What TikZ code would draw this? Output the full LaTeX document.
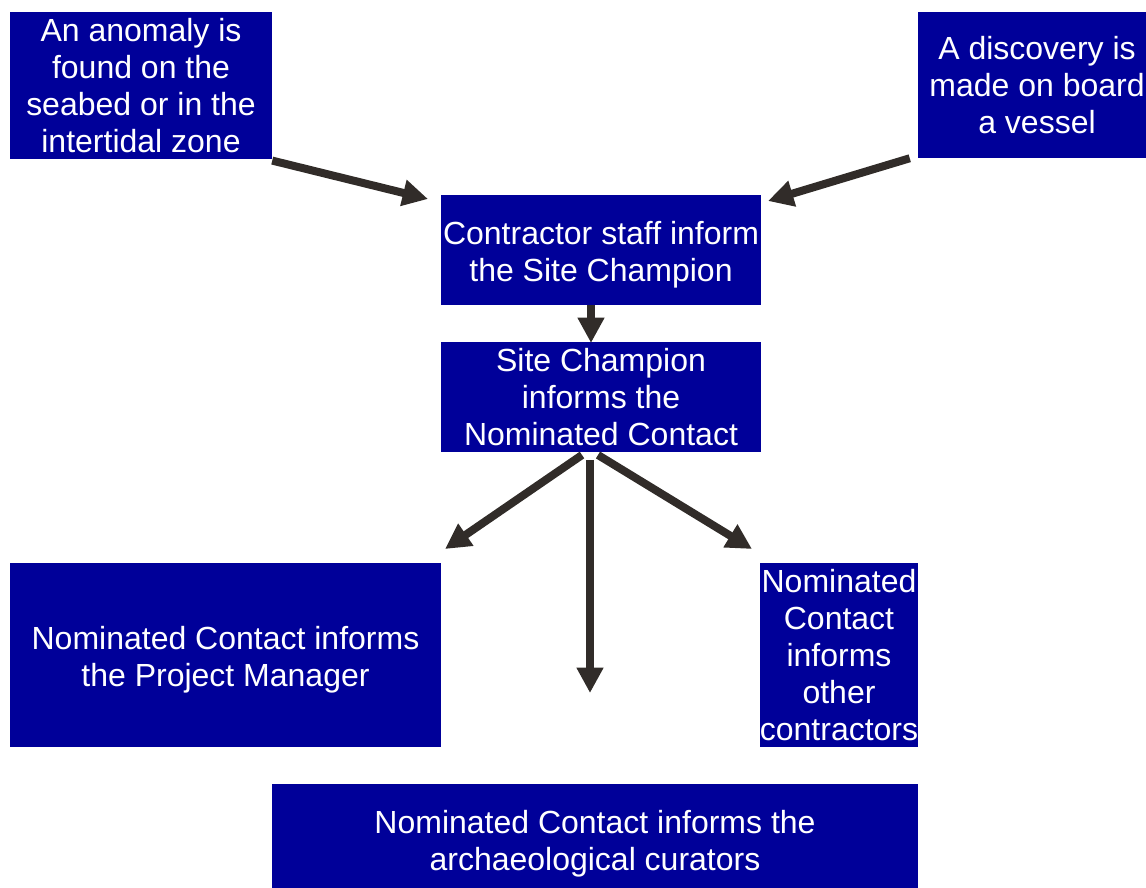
\documentclass[tikz,border=0pt]{standalone}
\usepackage{fontspec}
\setmainfont{Liberation Sans}
\usetikzlibrary{arrows.meta}

\definecolor{boxblue}{RGB}{0,0,153}
\definecolor{arrowgrey}{RGB}{49,44,41}

% a taller first line pushes the text a little lower in its box
\newcommand{\lowerline}{\rule{0pt}{24pt}}

\tikzset{
  stage/.style = {fill = boxblue, text = white, align = center, inner sep = 0pt,
    font = \fontsize{24}{27.75}\selectfont},
  flow/.style = {draw = arrowgrey, line width = 6pt,
    -{Triangle[length = 19pt, width = 19pt]}}
}

\begin{document}
\begin{tikzpicture}[x = 0.75pt, y = -0.75pt]
    \useasboundingbox (0, 0) rectangle (1146, 888);

    \node[stage, minimum width = 196.5pt, minimum height = 110.25pt] (anomaly) at (141, 85.5)
        {An anomaly is\\ found on the\\ seabed or in the\\ intertidal zone};
    \node[stage, minimum width = 178.5pt, minimum height = 109.5pt] (discovery) at (1037, 85)
        {A discovery is\\ made on board\\ a vessel};
    \node[stage, minimum width = 240pt, minimum height = 82.5pt] (contractor) at (601, 250)
        {\lowerline Contractor staff inform\\ the Site Champion};
    \node[stage, minimum width = 240pt, minimum height = 82.5pt] (champion) at (601, 397)
        {Site Champion\\ informs the\\ Nominated Contact};
    \node[stage, minimum width = 323.25pt, minimum height = 138pt] (manager) at (225.5, 655)
        {\lowerline Nominated Contact informs\\ the Project Manager};
    \node[stage, minimum width = 118.5pt, minimum height = 138pt] (others) at (839, 655)
        {Nominated\\ Contact\\ informs\\ other\\ contractors};
    \node[stage, minimum width = 484.5pt, minimum height = 82.5pt] (curators) at (595, 839)
        {\lowerline Nominated Contact informs the\\ archaeological curators};

    % free ends of the arrows
    \coordinate (anomalytip) at (428, 199);
    \coordinate (discoverytip) at (768, 201);
    \coordinate (champtop) at (591, 343);
    \coordinate (contrbottom) at (591, 305);
    \coordinate (leftfoot) at (582, 455);
    \coordinate (midfoot) at (590, 460);
    \coordinate (rightfoot) at (598, 455);
    \coordinate (managertip) at (445, 549);
    \coordinate (curatortip) at (590, 693);
    \coordinate (otherstip) at (752, 549);

    \draw[flow] ([yshift = -1]anomaly.south east) -- (anomalytip);
    \draw[flow] ([xshift = -6]discovery.south west) -- (discoverytip);
    \draw[flow] (contrbottom) -- (champtop);
    \draw[flow] (leftfoot) -- (managertip);
    \draw[flow] (midfoot) -- (curatortip);
    \draw[flow] (rightfoot) -- (otherstip);
\end{tikzpicture}
\end{document}
